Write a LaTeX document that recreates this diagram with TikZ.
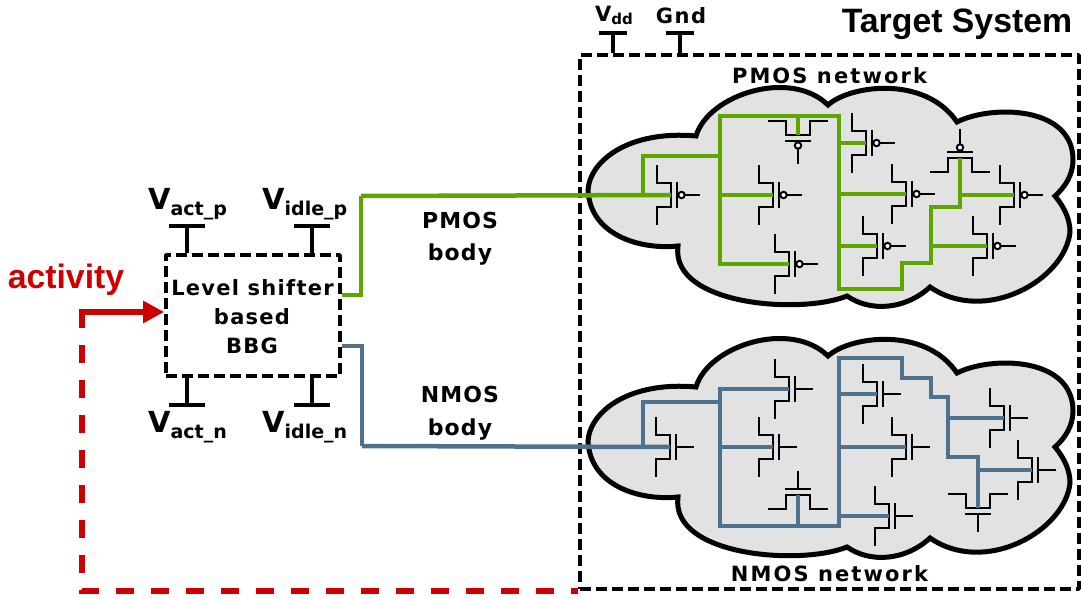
\documentclass[tikz,border=0pt]{standalone}
\usepackage{fontspec}
\setmainfont{DejaVu Sans}[BoldFont={DejaVu Sans Bold}]
\newfontfamily\headfont{Liberation Sans}[BoldFont={Liberation Sans Bold}]
\definecolor{pbody}{RGB}{95, 165, 0}
\definecolor{nbody}{RGB}{78, 113, 142}
\definecolor{ctrl}{RGB}{204, 0, 0}
\definecolor{cloudfill}{RGB}{226, 226, 226}
\usetikzlibrary{arrows.meta, calc}
\newcommand{\fs}[1]{\fontsize{#1}{#1}\selectfont}
\newcommand{\supply}[1]{{\fs{29}V}{\fs{19}\raisebox{-6pt}{#1}}}

\begin{document}
\begin{tikzpicture}[
        x=1pt, y=-1pt,
        every node/.style={font=\bfseries, align=center, inner sep=0pt},
        boxdash/.style={draw=black, line width=3.6pt, line join=round, dash pattern=on 11pt off 5pt},
        term/.style={line width=4.5pt},
        pwire/.style={pbody, line width=4.8pt, line join=miter},
        nwire/.style={nbody, line width=4.8pt, line join=miter},
        feedback/.style={ctrl, line width=6pt, dash pattern=on 18pt off 17pt, dash phase=2pt},
        arr/.style={-{Triangle[length=21pt, width=21pt]}, ctrl, line width=6pt},
        pfet/.pic={
            \coordinate (-ch) at (0,0);
            \draw[black, line width=2.5pt] (-14,-30) -- (-14,-12) -- (0,-12) -- (0,12) -- (-14,12) -- (-14,30);
            \draw[black, line width=2.5pt] (6,-13) -- (6,13);
            \draw[black, line width=2.5pt] (13.5,0) -- (29,0);
            \draw[black, line width=2pt, fill=white] (10.5,0) circle (3.2pt);
        },
        nfet/.pic={
            \coordinate (-ch) at (0,0);
            \draw[black, line width=2.5pt] (-14,-30) -- (-14,-12) -- (0,-12) -- (0,12) -- (-14,12) -- (-14,30);
            \draw[black, line width=2.5pt] (6,-13) -- (6,13);
            \draw[black, line width=2.5pt] (6,0) -- (24,0);
        },
        tbar/.pic={
            \draw[term] (-18,0) -- (18,0);
        },
        cloud/.pic={
            \draw[black, line width=5pt, fill=cloudfill, line join=miter]
                (588,190) .. controls (590,160) and (630,130) .. (696,136)
                .. controls (708,95) and (790,68) .. (828,105)
                .. controls (850,85) and (925,75) .. (957,122)
                .. controls (990,105) and (1073,105) .. (1073,160)
                .. controls (1073,175) and (1065,187) .. (1055,196)
                .. controls (1065,208) and (1070,220) .. (1070,232)
                .. controls (1065,280) and (985,325) .. (930,287)
                .. controls (905,310) and (870,312) .. (847,296)
                .. controls (800,315) and (670,305) .. (678,246)
                .. controls (640,250) and (590,235) .. (588,190) -- cycle;
        }
    ]
        \useasboundingbox (0,0) rectangle (1081,599);

        % Target system with both clouds
        \node[boxdash, minimum width=499pt, minimum height=534pt] (target) at (829.5,322) {};
        \pic (pcloud) at (0,0) {cloud};
        \pic (ncloud) at (0,251) {cloud};
        \node[font=\headfont\bfseries\fs{33.8}, anchor=base] (title) at (957,33) {Target System};
        \node[font=\bfseries\fs{21}\addfontfeatures{LetterSpace=10}, anchor=base] (ptitle) at (829.5,84) {PMOS network};
        \node[font=\bfseries\fs{21}\addfontfeatures{LetterSpace=10}, anchor=base] (ntitle) at (829.5,581) {NMOS network};

        % Supplies of the target
        \coordinate (vdd) at (613,33);
        \coordinate (gnd) at (680,33);
        \pic[scale=0.8] (vddbar) at (vdd) {tbar};
        \pic[scale=0.8] (gndbar) at (gnd) {tbar};
        \draw[term] (vdd) -- (vdd |- target.north);
        \draw[term] (gnd) -- (gnd |- target.north);
        \node[anchor=base west] (vddlabel) at (595,22) {{\fs{21}V}{\fs{15}\raisebox{-3pt}{dd}}};
        \node[font=\bfseries\fs{21}\addfontfeatures{LetterSpace=7}, anchor=base] (gndlabel) at (681,24) {Gnd};

        % Level shifter block
        \node[boxdash, minimum width=174pt, minimum height=121pt] (bbg) at (253,315.5) {};
        \node[font=\bfseries\fs{21}\addfontfeatures{LetterSpace=6}, anchor=base] (bbgone) at (252.5,295) {Level shifter};
        \node[font=\bfseries\fs{21}\addfontfeatures{LetterSpace=6}, anchor=base] (bbgtwo) at (252,324) {based};
        \node[font=\bfseries\fs{21}\addfontfeatures{LetterSpace=6}, anchor=base] (bbgthree) at (252,353) {BBG};

        % Body biases of the block
        \coordinate (actp) at (187,226);
        \coordinate (idlep) at (312,226);
        \coordinate (actn) at (187,405);
        \coordinate (idlen) at (312,405);
        \pic (actpbar) at (actp) {tbar};
        \pic (idlepbar) at (idlep) {tbar};
        \pic (actnbar) at (actn) {tbar};
        \pic (idlenbar) at (idlen) {tbar};
        \draw[term] (actp) -- (actp |- bbg.north);
        \draw[term] (idlep) -- (idlep |- bbg.north);
        \draw[term] (actn) -- (actn |- bbg.south);
        \draw[term] (idlen) -- (idlen |- bbg.south);
        \node[anchor=base west] (actplabel) at (148,209) {\supply{act\_p}};
        \node[anchor=base west] (idleplabel) at (262,209) {\supply{idle\_p}};
        \node[anchor=base west] (actnlabel) at (148,432) {\supply{act\_n}};
        \node[anchor=base west] (idlenlabel) at (262,432) {\supply{idle\_n}};

        % Activity feedback
        \node[font=\headfont\bfseries\fs{33.8}, text=ctrl, anchor=base] (activity) at (66,288) {activity};
        \coordinate (fb) at (82,312);
        \draw[feedback] (fb) |- (target.south west);
        \draw[arr] ([xshift=-3pt]fb) -- (fb -| bbg.west);

        % PMOS transistors
        \pic (p1) at (671,195) {pfet};
        \pic (p2) at (773,195) {pfet};
        \pic (p3) at (789,264) {pfet};
        \pic[rotate=-90] (p4) at (798,135) {pfet};
        \pic (p5) at (866,143) {pfet};
        \pic (p6) at (906,194) {pfet};
        \pic (p7) at (877,246) {pfet};
        \pic[rotate=90] (p8) at (960,158) {pfet};
        \pic (p9) at (1014,195) {pfet};
        \pic (p10) at (987,246) {pfet};

        % PMOS body wiring
        \coordinate (pa) at (643,156);
        \coordinate (pb) at (720,116);
        \coordinate (pc) at (839,116);
        \draw[pbody, line width=4.5pt] (361,196) -- (p1-ch);
        \draw[pbody, line width=4.5pt] (bbg.east |- 0,295) -- (361,295) -- (361,196);
        \draw[pwire] (pa |- p1-ch) -- (pa) -- (pa -| pb);
        \draw[pwire] (p3-ch) -- (pb |- p3-ch) -- (pb) -- (pc) -- (839,289) -- (902,289) -- (902,263) -- (931,263) -- (931,207) -- (960,207) -- (p8-ch);
        \draw[pwire] (pb |- p2-ch) -- (p2-ch);
        \draw[pwire] (p4-ch |- pb) -- (p4-ch);
        \draw[pwire] (pc |- p5-ch) -- (p5-ch);
        \draw[pwire] (pc |- p6-ch) -- (p6-ch);
        \draw[pwire] (pc |- p7-ch) -- (p7-ch);
        \draw[pwire] (p8-ch |- p9-ch) -- (p9-ch);
        \draw[pwire] (931,246) -- (p10-ch);

        % NMOS transistors
        \pic (n1) at (670,447) {nfet};
        \pic (n2) at (773,447) {nfet};
        \pic (n3) at (789,389) {nfet};
        \pic[rotate=90] (n4) at (798,495) {nfet};
        \pic (n5) at (877,394) {nfet};
        \pic (n6) at (906,447) {nfet};
        \pic (n7) at (889,516) {nfet};
        \pic (n8) at (1004,418) {nfet};
        \pic (n9) at (1032,470) {nfet};
        \pic[rotate=-90] (n10) at (978,508) {nfet};

        % NMOS body wiring
        \coordinate (na) at (643,402);
        \coordinate (nb) at (720,389);
        \coordinate (nc) at (839,526);
        \draw[nbody, line width=4.5pt] (362,446) -- (n1-ch);
        \draw[nbody, line width=4.5pt] (bbg.east |- 0,346) -- (362,346) -- (362,446);
        \draw[nwire] (643,446) -- (na) -- (na -| nb);
        \draw[nwire] (n3-ch) -- (nb) -- (nb |- nc) -- (nc) -- (839,358) -- (902,358) -- (902,378) -- (931,378) -- (931,397) -- (948,397) -- (948,457) -- (978,457) -- (n10-ch);
        \draw[nwire] (nb |- n2-ch) -- (n2-ch);
        \draw[nwire] (n4-ch |- nc) -- (n4-ch);
        \draw[nwire] (nc |- n5-ch) -- (n5-ch);
        \draw[nwire] (nc |- n6-ch) -- (n6-ch);
        \draw[nwire] (nc |- n7-ch) -- (n7-ch);
        \draw[nwire] (948,418) -- (n8-ch);
        \draw[nwire] (978,470) -- (n9-ch);

        % Wire captions
        \node[font=\bfseries\fs{22}\addfontfeatures{LetterSpace=5}, anchor=base] (pbodyone) at (460,228) {PMOS};
        \node[font=\bfseries\fs{22}\addfontfeatures{LetterSpace=5}, anchor=base] (pbodytwo) at (460,260) {body};
        \node[font=\bfseries\fs{22}\addfontfeatures{LetterSpace=5}, anchor=base] (nbodyone) at (460,402) {NMOS};
        \node[font=\bfseries\fs{22}\addfontfeatures{LetterSpace=5}, anchor=base] (nbodytwo) at (460,435) {body};
    \end{tikzpicture}
\end{document}
